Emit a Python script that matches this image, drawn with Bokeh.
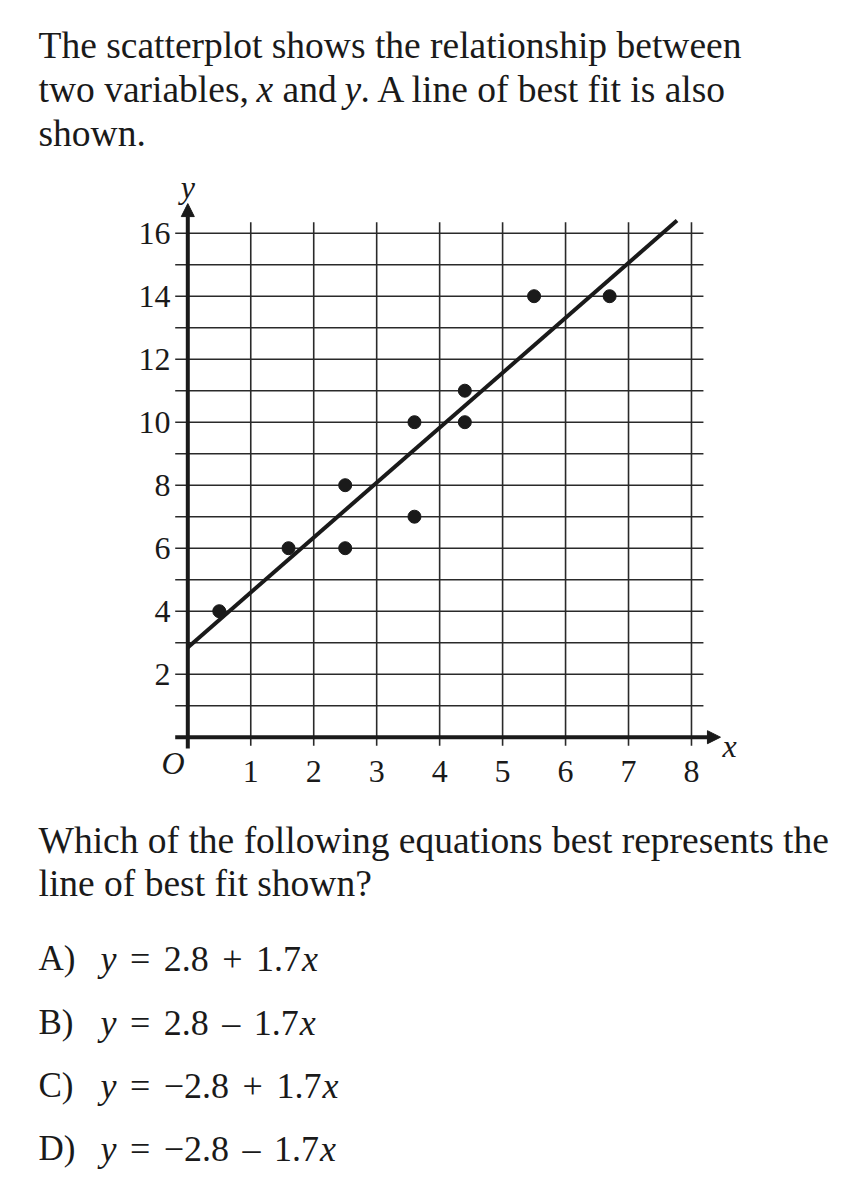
from bokeh.plotting import figure
from bokeh.models import Range1d, Arrow, NormalHead
from bokeh.core.properties import value
from bokeh.embed import file_html
from bokeh.resources import INLINE

# ---------------- data ----------------
pts_x = [0.5, 1.6, 2.5, 2.5, 3.6, 3.6, 4.4, 4.4, 5.5, 6.7]
pts_y = [4, 6, 8, 6, 7, 10, 11, 10, 14, 14]
fit_x = [0.0, 7.77]
fit_y = [2.85, 16.4]
x_ticks = [1, 2, 3, 4, 5, 6, 7, 8]
y_ticks = [2, 4, 6, 8, 10, 12, 14, 16]
x_grid = [1, 2, 3, 4, 5, 6, 7, 8]
y_grid = list(range(1, 17))
option_letters = ["A)", "B)", "C)", "D)"]
option_intercepts = ["2.8", "2.8", "\u22122.8", "\u22122.8"]
option_ops = ["+", "\u2013", "+", "\u2013"]
option_slopes = ["1.7", "1.7", "1.7", "1.7"]

# ---------------- layout ----------------
W, H = 846, 1184
OX, OY = 187.3, 736.7      # canvas px of the origin
SX, SY = 62.96, 31.5       # px per unit

def PX(xp):
    return (xp - OX) / SX

def PY(yp):
    return (OY - yp) / SY

INK = "#1a1a1a"
SERIF = value("Liberation Serif")

p = figure(width=W, height=H, output_backend="svg", toolbar_location=None,
           x_range=Range1d(-OX / SX, (W - OX) / SX),
           y_range=Range1d((OY - H) / SY, OY / SY),
           min_border=0, min_border_left=0, min_border_right=0,
           min_border_top=0, min_border_bottom=0)
p.xaxis.visible = False
p.yaxis.visible = False
p.grid.visible = False
p.outline_line_color = None
p.background_fill_color = "white"
p.border_fill_color = "white"

# grid
gx0, gx1 = -0.2, 8.19
gy0, gy1 = -0.27, 16.35
p.segment(x0=[gx0] * len(y_grid), y0=y_grid, x1=[gx1] * len(y_grid), y1=y_grid,
          line_color="#2a2a2a", line_width=1.6)
p.segment(x0=x_grid, y0=[gy0] * len(x_grid), x1=x_grid, y1=[gy1] * len(x_grid),
          line_color="#2a2a2a", line_width=1.6)

# axes with arrows
p.add_layout(Arrow(end=NormalHead(size=13, fill_color=INK, line_color=INK, line_width=1),
                   x_start=0, y_start=-0.36, x_end=0, y_end=16.94,
                   line_width=4, line_color=INK))
p.add_layout(Arrow(end=NormalHead(size=13, fill_color=INK, line_color=INK, line_width=1),
                   x_start=-0.2, y_start=0, x_end=8.46, y_end=0,
                   line_width=4, line_color=INK))

# fit line & points
p.line(fit_x, fit_y, line_color=INK, line_width=4)
p.scatter(pts_x, pts_y, size=13, color=INK)

# tick labels
p.text(x=[PX(170)] * len(y_ticks), y=y_ticks, text=[str(t) for t in y_ticks],
       text_font=SERIF, text_font_size="32px", text_align="right",
       text_baseline="middle", text_color=INK)
p.text(x=x_ticks, y=[PY(771)] * len(x_ticks), text=[str(t) for t in x_ticks],
       text_font=SERIF, text_font_size="32px", text_align="center",
       text_baseline="alphabetic", text_color=INK)
p.text(x=[PX(184)], y=[PY(762)], text=["O"], text_font=SERIF, text_font_size="32px",
       text_font_style="italic", text_align="right", text_baseline="alphabetic",
       text_color=INK)
p.text(x=[0], y=[PY(186)], text=["y"], text_font=SERIF, text_font_size="32px",
       text_font_style="italic", text_align="center", text_baseline="alphabetic",
       text_color=INK)
p.text(x=[PX(722)], y=[PY(745)], text=["x"], text_font=SERIF, text_font_size="32px",
       text_font_style="italic", text_align="left", text_baseline="alphabetic",
       text_color=INK)

# paragraph text
def txt(xp, yp, s, size="37.5px", style="normal", align="left"):
    p.text(x=[PX(xp)], y=[PY(yp)], text=[s], text_font=SERIF, text_font_size=size,
           text_font_style=style, text_align=align, text_baseline="alphabetic",
           text_color=INK)

txt(38, 45, "The scatterplot shows the relationship between")
txt(38, 89, "two variables,")
txt(256, 89, "x", style="italic")
txt(282, 89, "and")
txt(344, 89, "y", style="italic")
txt(360, 89, ". A line of best fit is also")
txt(38, 133, "shown.")

txt(38, 840, "Which of the following equations best represents the")
txt(38, 883, "line of best fit shown?")

# options: tokens laid out one after another (Times-metric advance widths)
EM = 36.0
ADV = {"0": .5, "1": .5, "2": .5, "3": .5, "4": .5, "5": .5, "6": .5, "7": .5,
       "8": .5, "9": .5, ".": .25, "+": .564, "=": .564, "\u2212": .564,
       "\u2013": .5, "x": .444, "y": .444}
GAP = 13.5

def adv(s):
    return sum(ADV.get(c, .5) for c in s) * EM

base = [958, 1022, 1085, 1148]
for i in range(4):
    b = base[i]
    txt(38, b, option_letters[i], size="35px")
    toks = [("y", "italic", GAP), ("=", "normal", GAP), (option_intercepts[i], "normal", GAP),
            (option_ops[i], "normal", GAP), (option_slopes[i], "normal", 1.0),
            ("x", "italic", 0)]
    cx = 100.0
    for s, st, g in toks:
        txt(cx, b, s, size="36px", style=st)
        cx += adv(s) + g

open("out.html", "w").write(file_html(p, INLINE))
